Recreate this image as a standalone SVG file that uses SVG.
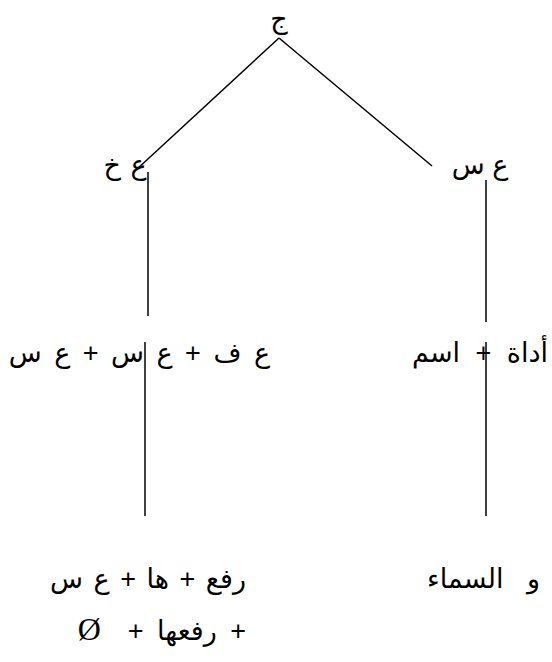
<svg xmlns="http://www.w3.org/2000/svg" width="552" height="662" viewBox="0 0 552 662">
<style>
text{font-family:"Liberation Sans","DejaVu Sans",sans-serif;font-size:27px;fill:#000}
.l{stroke:#000;stroke-width:1.5;fill:none}
.s{font-family:"Liberation Serif",serif;font-size:32px}
</style>
<rect width="552" height="662" fill="#fff"/>
<g id="connectors">
<line class="l" x1="279" y1="38" x2="136" y2="170"/>
<line class="l" x1="279" y1="38" x2="432" y2="166"/>
<line class="l" x1="148" y1="172" x2="148" y2="316"/>
<line class="l" x1="486" y1="180" x2="486" y2="322"/>
<line class="l" x1="145" y1="342" x2="145" y2="516"/>
<line class="l" x1="486" y1="342" x2="486" y2="516"/>
</g>
<g id="n-root"><text x="279" y="28" text-anchor="middle">ج</text></g>
<g id="n-left"><text x="125" y="174" text-anchor="middle" direction="rtl" word-spacing="2">ع خ</text></g>
<g id="n-right"><text x="480" y="174" text-anchor="middle" direction="rtl">ع س</text></g>
<g id="n-left2"><text x="270" y="362" text-anchor="start" direction="rtl" word-spacing="5">ع ف + ع س + ع س</text></g>
<g id="n-right2"><text x="548" y="362" text-anchor="start" direction="rtl" word-spacing="8">أداة + اسم</text></g>
<g id="n-left3"><text x="246" y="588" text-anchor="start" direction="rtl" word-spacing="3">رفع + ها + ع س</text><text x="246" y="640" text-anchor="start" direction="rtl" word-spacing="6">+ رفعها + &#160;<tspan class="s">Ø</tspan></text></g>
<g id="n-right3"><text x="540" y="588" text-anchor="start" direction="rtl" word-spacing="16">و السماء</text></g>
</svg>
